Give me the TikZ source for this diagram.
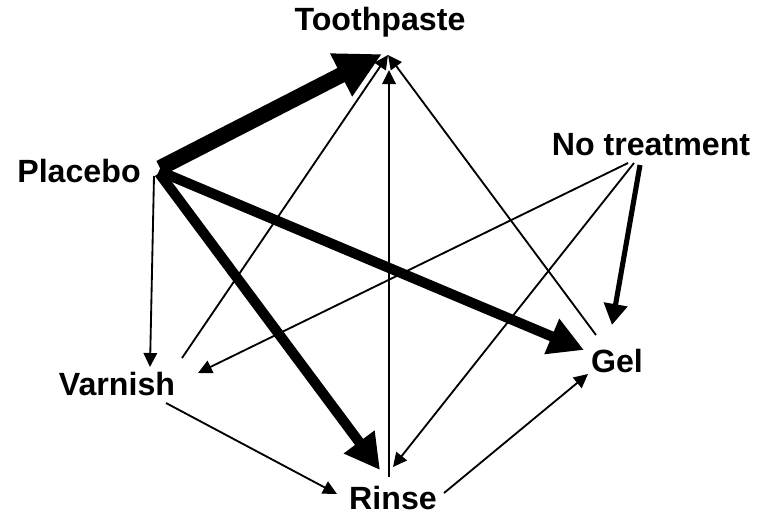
\documentclass[tikz,border=0pt]{standalone}
\usepackage{fontspec}
\setmainfont{Liberation Sans}
\usetikzlibrary{arrows.meta}

\begin{document}
\begin{tikzpicture}[
    x=0.02cm,
    y=-0.02cm,
    treat/.style={
        anchor=base,
        inner sep=0pt,
        font=\fontsize{18.3}{22}\selectfont\bfseries
    },
    arrow/.style={
        -{Triangle[length=0.28cm, width=0.27cm]},
        line width=1.05pt
    },
    medarrow/.style={
        -{Triangle[length=0.42cm, width=0.46cm]},
        line width=2.9pt
    },
    thickarrow/.style={
        -{Triangle[length=0.7cm, width=0.72cm]},
        line width=5.8pt
    },
    heavyarrow/.style={
        -{Triangle[length=0.92cm, width=0.9cm]},
        line width=9pt
    }
]
    \useasboundingbox (0,0) rectangle (767,514);

    % Treatments
    \node[treat] (tooth) at (380,30) {Toothpaste};
    \node[treat] (plac) at (79,182) {Placebo};
    \node[treat] (notr) at (651,155) {No treatment};
    \node[treat] (var) at (117,395) {Varnish};
    \node[treat] (gel) at (617,372) {Gel};
    \node[treat] (rinse) at (393,509) {Rinse};

    % From Placebo
    \draw[heavyarrow] ([shift={(81,-14)}]plac.base) -- ([shift={(2,24)}]tooth.base);
    \draw[thickarrow] ([shift={(80,-11)}]plac.base) -- ([shift={(-33,-22)}]gel.base);
    \draw[thickarrow] ([shift={(80,-9)}]plac.base) -- ([shift={(-13,-39)}]rinse.base);
    \draw[arrow] ([shift={(75,-6)}]plac.base) -- ([shift={(33,-28)}]var.base);

    % From No treatment
    \draw[medarrow] ([shift={(-11,10)}]notr.base) -- ([shift={(-5,-47)}]gel.base);
    \draw[arrow] ([shift={(-23,8)}]notr.base) -- ([shift={(81,-22)}]var.base);
    \draw[arrow] ([shift={(-17,8)}]notr.base) -- ([shift={(0,-42)}]rinse.base);

    % Into Toothpaste
    \draw[arrow] ([shift={(65,-37)}]var.base) -- ([shift={(8,25)}]tooth.base);
    \draw[arrow] ([shift={(-21,-37)}]gel.base) -- ([shift={(8,25)}]tooth.base);
    \draw[arrow] ([shift={(-4,-32)}]rinse.base) -- ([shift={(9,40)}]tooth.base);

    % Lower ring
    \draw[arrow] ([shift={(49,8)}]var.base) -- ([shift={(-56,-15)}]rinse.base);
    \draw[arrow] ([shift={(51,-16)}]rinse.base) -- ([shift={(-29,2)}]gel.base);

\end{tikzpicture}
\end{document}
